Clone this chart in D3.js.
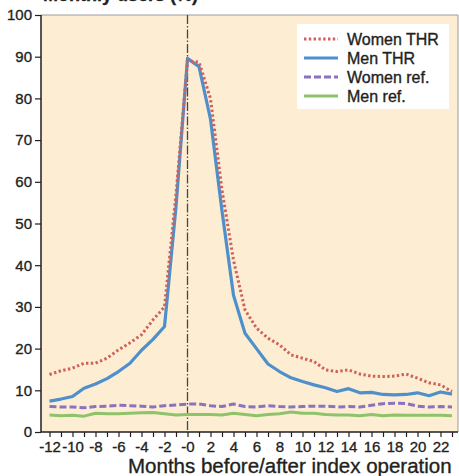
<!DOCTYPE html>
<html>
<head>
<meta charset="utf-8">
<script src="https://cdn.jsdelivr.net/npm/d3@7"></script>
<style>
  body { margin: 0; background: #fff; }
  svg { display: block; font-family: "Liberation Sans", Arial, sans-serif; }
</style>
</head>
<body>
<script>
// months relative to index operation (0 is printed as "-0")
var months = d3.range(-12, 24);
var womenTHR = [13.8,14.7,15.3,16.5,16.5,17.7,19.7,21.4,23.3,26.9,30.0,57.0,89.0,88.7,80.0,58.0,41.2,29.3,24.9,22.5,20.9,18.5,17.7,16.9,14.9,14.5,14.9,13.9,13.4,13.3,13.4,13.9,12.9,11.8,11.3,9.7];
var menTHR   = [7.4,7.9,8.5,10.5,11.5,12.8,14.5,16.5,19.6,22.2,25.3,54.0,89.6,87.6,75.0,53.0,32.8,23.7,20.0,16.3,14.5,13.0,12.1,11.3,10.6,9.7,10.4,9.4,9.5,9.0,8.9,9.0,9.4,8.7,9.6,9.1];
var womenRef = [6.1,6.0,6.0,5.8,6.1,6.2,6.4,6.3,6.2,6.0,6.3,6.5,6.7,6.7,6.3,6.1,6.7,6.1,6.0,6.3,6.1,6.0,6.1,6.2,6.2,6.0,6.1,6.0,6.4,6.8,6.9,6.8,6.2,6.0,6.1,6.0];
var menRef   = [4.1,3.9,4.0,3.8,4.5,4.4,4.4,4.5,4.6,4.7,4.4,4.1,4.2,4.2,4.2,4.1,4.5,4.2,3.9,4.2,4.4,4.8,4.5,4.5,4.2,4.1,4.1,3.9,4.2,3.9,4.1,4.0,4.0,4.0,4.0,3.9];
var yTicks = d3.range(0, 101, 10);
var seriesNames = ["Women THR", "Men THR", "Women ref.", "Men ref."];

var W = 459, H = 476;
var box = {left: 41, right: 458, top: 15, bottom: 432};
var ink = "#231f20";

var series = [
  {name: seriesNames[0], values: womenTHR, color: "#d0605a", width: 3, dash: "2.4,2.4"},
  {name: seriesNames[1], values: menTHR,   color: "#4f8fcb", width: 3.2, dash: null},
  {name: seriesNames[2], values: womenRef, color: "#8a72bf", width: 3, dash: "7,3"},
  {name: seriesNames[3], values: menRef,   color: "#8ec26b", width: 3, dash: null}
];

var svg = d3.select("body").append("svg").attr("width", W).attr("height", H);

var x = d3.scaleLinear().domain([-12, 23]).range([49.5, 452]);
var y = d3.scaleLinear().domain([0, 100]).range([box.bottom, box.top]);

// slightly heavier text, like the printed figure
function inkText(sel, size){
  sel.style("font-size", size + "px").style("fill", ink)
    .style("stroke", ink).style("stroke-width", 0.35)
    .style("font-family", "Liberation Sans, Arial, sans-serif");
}

// title fragment, cut by the top edge as in the source
svg.append("text")
  .attr("x", 198).attr("y", 1)
  .attr("text-anchor", "end")
  .style("font-weight", "bold")
  .call(inkText, 18)
  .text("Monthly users (%)");

// plot background
svg.append("rect")
  .attr("x", box.left).attr("y", box.top)
  .attr("width", box.right - box.left).attr("height", box.bottom - box.top)
  .style("fill", "#fdeed3");
svg.append("path")
  .attr("d", "M" + box.left + "," + box.top + "H" + box.right + "V" + box.bottom)
  .style("fill", "none").style("stroke", "#9a9a9a").style("stroke-width", 1);

// index operation marker
svg.append("line")
  .attr("x1", x(0)).attr("x2", x(0)).attr("y1", box.top).attr("y2", box.bottom)
  .style("stroke", "#4a4540").style("stroke-width", 1.3)
  .style("stroke-dasharray", "9,2,1.5,2");

// lines
var line = d3.line()
  .x(function(d, i){ return x(months[i]); })
  .y(function(d){ return y(d); });

// reference lines first, then THR (women dots on top)
[3, 2, 1, 0].forEach(function(k){
  var s = series[k];
  svg.append("path")
    .datum(s.values)
    .attr("d", line)
    .style("fill", "none")
    .style("stroke", s.color)
    .style("stroke-width", s.width)
    .style("stroke-linejoin", "round")
    .style("stroke-dasharray", s.dash);
});

// y axis
var yAxis = svg.append("g")
  .attr("transform", "translate(" + box.left + ",0)")
  .call(d3.axisLeft(y).tickValues(yTicks).tickSize(6).tickPadding(3));
yAxis.select(".domain").remove();
yAxis.selectAll("line").style("stroke", ink).style("stroke-width", 1.2);
yAxis.selectAll("text").call(inkText, 15);

// x axis
var xAxis = svg.append("g")
  .attr("transform", "translate(0," + box.bottom + ")")
  .call(d3.axisBottom(x).tickValues(months).tickSize(5).tickPadding(4)
    .tickFormat(function(d){
      if (d % 2 !== 0) return "";
      if (d === 0) return "-0";
      return d < 0 ? "-" + Math.abs(d) : String(d);
    }));
xAxis.select(".domain").remove();
xAxis.selectAll("line").style("stroke", ink).style("stroke-width", 1.2);
xAxis.selectAll("text").call(inkText, 15);

// axis lines
svg.append("path")
  .attr("d", "M" + box.left + "," + box.top + "V" + box.bottom + "H" + box.right)
  .style("fill", "none").style("stroke", ink).style("stroke-width", 1.5);

// x axis title
svg.append("text")
  .attr("x", 128).attr("y", 473)
  .call(inkText, 20.5)
  .text("Months before/after index operation");

// legend
var lg = svg.append("g").attr("transform", "translate(297,24)");
lg.append("rect").attr("width", 152).attr("height", 85).style("fill", "#fff");
series.forEach(function(s, i){
  var yy = 15 + i * 19;
  lg.append("line")
    .attr("x1", 7).attr("x2", 41).attr("y1", yy).attr("y2", yy)
    .style("stroke", s.color).style("stroke-width", s.width)
    .style("stroke-dasharray", s.dash);
  lg.append("text")
    .attr("x", 50).attr("y", yy + 6)
    .call(inkText, 16)
    .text(s.name);
});
</script>
</body>
</html>
